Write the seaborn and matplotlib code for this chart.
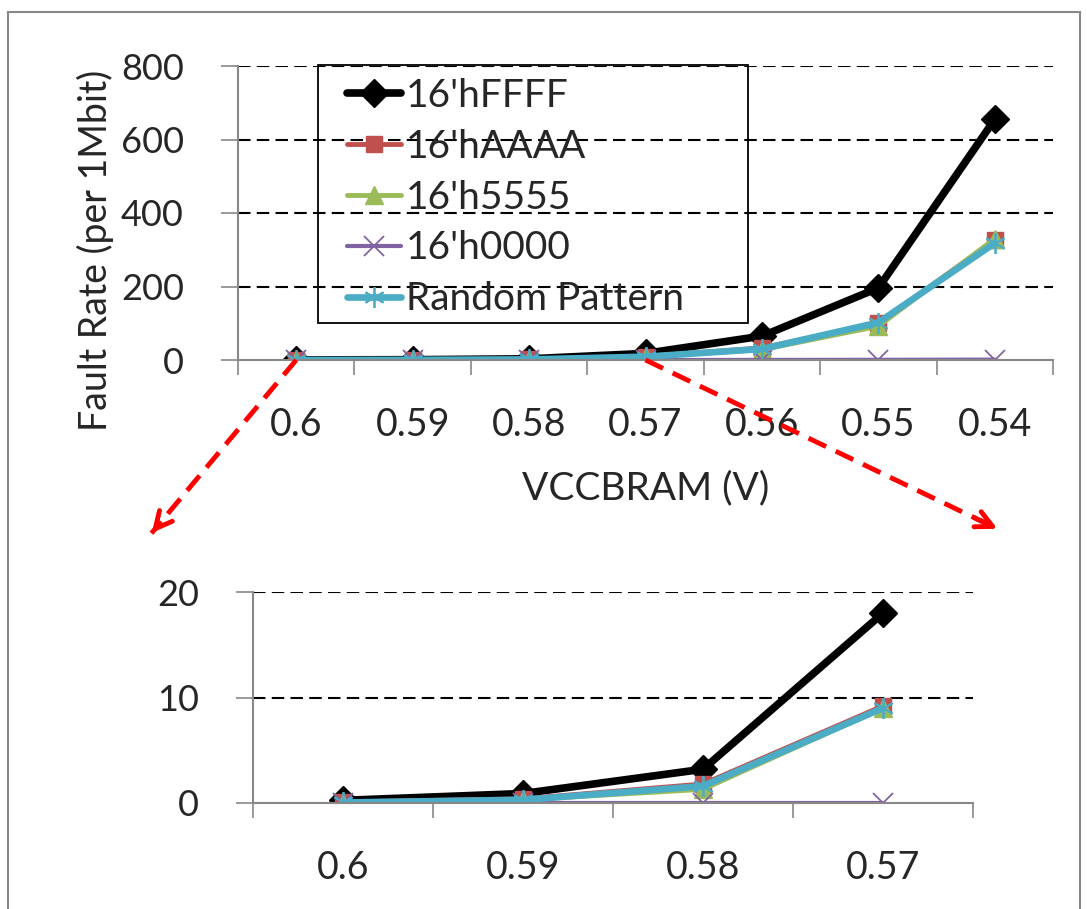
import matplotlib
matplotlib.use("Agg")
import matplotlib.pyplot as plt
import seaborn as sns
import numpy as np
from matplotlib.lines import Line2D
from matplotlib.patches import Rectangle, FancyArrowPatch

# ---------------- data ----------------
voltages = ['0.6', '0.59', '0.58', '0.57', '0.56', '0.55', '0.54']
zoom_voltages = ['0.6', '0.59', '0.58', '0.57']
ffff = [0.25, 0.9, 3.2, 18.0, 65, 196, 655]
aaaa = [0.1, 0.4, 1.8, 9.2, 33, 100, 326]
h5555 = [0.0, 0.3, 1.3, 9.0, 28, 92, 330]
h0000 = [0.0, 0.0, 0.0, 0.0, 0.2, 0.5, 1.0]
rand = [0.05, 0.3, 1.6, 9.0, 30, 102, 318]
series_names = ["16'hFFFF", "16'hAAAA", "16'h5555", "16'h0000", "Random Pattern"]
top_ticks = [0, 200, 400, 600, 800]
zoom_ticks = [0, 10, 20]

sns.set_theme(style="white")
plt.rcParams['font.family'] = ['Lato', 'DejaVu Sans']

styles = [
    dict(color='#000000', marker='D', ms=14, lw=5.5, mec='#000000', mew=1),
    dict(color='#C0504D', marker='s', ms=12, lw=3.5, mec='#C0504D', mew=1),
    dict(color='#9BBB59', marker='^', ms=13, lw=3.5, mec='#9BBB59', mew=1),
    dict(color='#8064A2', marker='x', ms=15, lw=3.0, mec='#8064A2', mew=1.3),
    dict(color='#4BACC6', marker=(6, 2, 0), ms=15, lw=4.8, mec='#4BACC6', mew=1.3),
]
all_series = [ffff, aaaa, h5555, h0000, rand]

W, H = 1087, 909
fig = plt.figure(figsize=(W / 100, H / 100), dpi=100)

ax1 = fig.add_axes([238 / W, 1 - 360 / H, (1053 - 238) / W, (360 - 66) / H])
ax2 = fig.add_axes([253 / W, 1 - 803 / H, (973 - 253) / W, (803 - 592) / H])

XT_SIZE = 27
YT_SIZE = 26


def draw(ax, labels, yticks, n):
    x = np.arange(n)
    for vals, st, name in zip(all_series, styles, series_names):
        sns.lineplot(x=x, y=vals[:n], ax=ax, color=st['color'], linewidth=st['lw'],
                     marker=st['marker'], markersize=st['ms'], markeredgecolor=st['mec'],
                     markeredgewidth=st['mew'], label=name, legend=False)
    ax.set_xlim(-0.5, n - 0.5)
    ax.set_ylim(yticks[0], yticks[-1])
    ax.set_yticks(yticks)
    ax.set_yticklabels([str(t) for t in yticks], fontsize=YT_SIZE)
    ax.set_xticks(np.arange(n + 1) - 0.5)
    ax.set_xticklabels([])
    ax.set_xticks(x, minor=True)
    ax.set_xticklabels(labels, minor=True, fontsize=XT_SIZE)
    ax.tick_params(axis='x', which='major', length=11, width=1.2, color='#888888',
                   direction='out', bottom=True)
    ax.tick_params(axis='x', which='minor', length=0, pad=34)
    ax.tick_params(axis='y', length=12, width=1.2, color='#888888', direction='out',
                   left=True, pad=27)
    for sp in ['top', 'right']:
        ax.spines[sp].set_visible(False)
    for sp in ['left', 'bottom']:
        ax.spines[sp].set_color('#888888')
        ax.spines[sp].set_linewidth(1.5)
    ax.grid(False)
    for t in yticks[1:]:
        ax.axhline(t, color='black', lw=1.5, ls=(0, (6, 3)), zorder=0.5)
    ax.set_facecolor('none')


draw(ax1, voltages, top_ticks, len(voltages))
draw(ax2, zoom_voltages, zoom_ticks, len(zoom_voltages))

ax1.set_ylabel('Fault Rate (per 1Mbit)', fontsize=27)
ax1.yaxis.set_label_coords((114 - 238) / 815, (360 - 250) / 294)
ax1.set_xlabel('VCCBRAM (V)', fontsize=28)
ax1.xaxis.set_label_coords(0.5, -(470 - 360) / 294)

# legend (frame drawn separately to match the boxed layout)
handles = [Line2D([0], [0], color=st['color'], lw=st['lw'], marker=st['marker'],
                  markersize=st['ms'], markeredgecolor=st['mec'],
                  markeredgewidth=st['mew']) for st in styles]
leg = ax1.legend(handles, series_names, loc='upper left',
                 bbox_to_anchor=(347 / W, 1 - 78 / H), bbox_transform=fig.transFigure,
                 fontsize=28, frameon=False, handlelength=1.4,
                 handletextpad=0.12, labelspacing=0.38, borderpad=0, borderaxespad=0)
fig.add_artist(Rectangle((318 / W, 1 - 323 / H), (748 - 318) / W, (323 - 65) / H,
                         transform=fig.transFigure, fill=False, edgecolor='black', lw=1.3))

# red dashed arrows from the zoomed region to the lower chart
def arrow(ax, xi, yv, tx, ty):
    p0 = fig.transFigure.inverted().transform(ax.transData.transform((xi, yv)))
    p1 = np.array([tx / W, 1 - ty / H])
    d = p1 - p0
    fig.add_artist(Line2D([p0[0], p1[0] - 0.01 * d[0]], [p0[1], p1[1] - 0.01 * d[1]],
                          transform=fig.transFigure, color='#FF0000', lw=3.5,
                          ls=(0, (4, 2.2))))
    fig.add_artist(FancyArrowPatch(p1 - 0.08 * d, p1, transform=fig.transFigure,
                                   arrowstyle='->', mutation_scale=30,
                                   color='#FF0000', lw=3.5))

arrow(ax1, 0, 0, 150, 535)
arrow(ax1, 3, 0, 1000, 530)

# outer frame
fig.add_artist(Rectangle((8 / W, -0.05), (1080 - 8) / W, 1.05 - 12 / H,
                         transform=fig.transFigure, fill=False, edgecolor='#888888', lw=1.5))

fig.savefig('out.png', dpi=100)
